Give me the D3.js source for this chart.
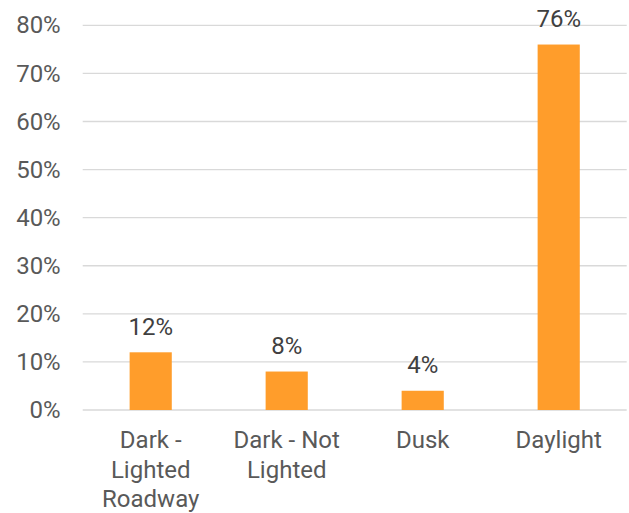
<!DOCTYPE html>
<html>
<head>
<meta charset="utf-8">
<script src="https://cdn.jsdelivr.net/npm/d3@7"></script>
<style>
  html, body { margin: 0; padding: 0; background: #fff; }
  svg { display: block; font-family: Roboto, "Noto Sans", sans-serif; }
</style>
</head>
<body>
<svg id="chart" width="629" height="513"></svg>
<script>
// Share of crashes by light condition
const categories = ["Dark - Lighted Roadway", "Dark - Not Lighted", "Dusk", "Daylight"];
const shares = [12, 8, 4, 76];
const yTicks = [0, 10, 20, 30, 40, 50, 60, 70, 80];

const width = 629, height = 513;
const margin = { top: 25.3, right: 2.3, bottom: 103, left: 82.7 };
const fontSize = "24px";

const svg = d3.select("#chart");
const innerW = width - margin.left - margin.right;
const innerH = height - margin.top - margin.bottom;

const x = d3.scaleBand()
  .domain(categories)
  .range([margin.left, margin.left + innerW])
  .paddingInner(0.69)
  .paddingOuter(0.345);

const y = d3.scaleLinear()
  .domain([0, 80])
  .range([margin.top + innerH, margin.top]);

// horizontal gridlines
svg.append("g")
  .selectAll("line")
  .data(yTicks)
  .join("line")
  .attr("x1", margin.left)
  .attr("x2", margin.left + innerW)
  .attr("y1", d => y(d))
  .attr("y2", d => y(d))
  .attr("stroke", "#d9d9d9")
  .attr("stroke-width", 1.3);

// y axis labels
const yAxis = d3.axisLeft(y)
  .tickValues(yTicks)
  .tickFormat(d => d + "%")
  .tickSize(0)
  .tickPadding(22);

svg.append("g")
  .attr("transform", `translate(${margin.left},0)`)
  .call(yAxis)
  .call(g => g.select(".domain").remove())
  .call(g => g.selectAll("text")
    .attr("fill", "#595959")
    .style("font-size", fontSize)
    .style("font-family", "Roboto, sans-serif"));

// bars
svg.append("g")
  .selectAll("rect")
  .data(categories)
  .join("rect")
  .attr("x", d => x(d))
  .attr("width", x.bandwidth())
  .attr("y", (d, i) => y(shares[i]))
  .attr("height", (d, i) => y(0) - y(shares[i]))
  .attr("fill", "#ff9d2b");

// value labels
svg.append("g")
  .selectAll("text")
  .data(categories)
  .join("text")
  .attr("x", d => x(d) + x.bandwidth() / 2)
  .attr("y", (d, i) => y(shares[i]) - 17.5)
  .attr("text-anchor", "middle")
  .attr("fill", "#404040")
  .style("font-size", fontSize)
  .text((d, i) => shares[i] + "%");

// category labels, wrapped to the band width
const xAxis = d3.axisBottom(x).tickSize(0).tickPadding(0);
const xg = svg.append("g")
  .attr("transform", `translate(0,${y(0)})`)
  .call(xAxis)
  .call(g => g.select(".domain").remove());

xg.selectAll("text")
  .attr("fill", "#595959")
  .style("font-size", fontSize)
  .style("font-family", "Roboto, sans-serif")
  .attr("dy", null)
  .attr("y", 0)
  .each(function(d) {
    const t = d3.select(this);
    const words = d.split(" ");
    t.text(null);
    const maxW = 134;
    let lines = [];
    let line = [];
    const probe = t.append("tspan");
    words.forEach(w => {
      const trial = line.concat([w]).join(" ");
      probe.text(trial);
      if (probe.node().getComputedTextLength() > maxW && line.length) {
        lines.push(line.join(" "));
        line = [w];
      } else {
        line.push(w);
      }
    });
    if (line.length) lines.push(line.join(" "));
    probe.remove();
    lines.forEach((l, i) => {
      t.append("tspan")
        .attr("x", 0)
        .attr("y", 38 + i * 29.5)
        .text(l);
    });
  });
</script>
</body>
</html>
